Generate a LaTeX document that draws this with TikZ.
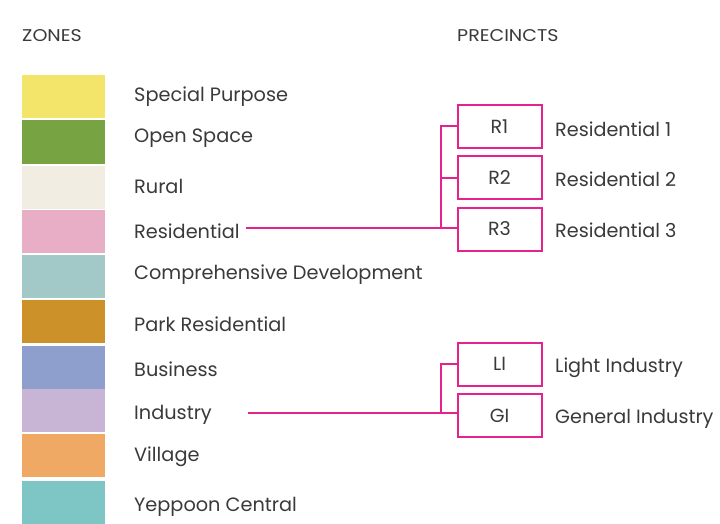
\documentclass[tikz,border=0pt]{standalone}
\usepackage{fontspec}
\setmainfont{Poppins}
\definecolor{mag}{HTML}{E6238C}
\definecolor{txt}{HTML}{3A3A3A}
\definecolor{cSP}{HTML}{F3E46A}
\definecolor{cOS}{HTML}{78A343}
\definecolor{cRU}{HTML}{F2EDE3}
\definecolor{cRE}{HTML}{E8AEC6}
\definecolor{cCD}{HTML}{A3C8C8}
\definecolor{cPR}{HTML}{CC9129}
\definecolor{cBU}{HTML}{8E9FCE}
\definecolor{cIN}{HTML}{C8B4D4}
\definecolor{cVI}{HTML}{F0A865}
\definecolor{cYC}{HTML}{7EC6C6}
\begin{document}
\begin{tikzpicture}[x=1pt,y=-1pt,
  swatch/.style={draw=none,minimum width=83pt,minimum height=43pt,inner sep=0pt},
  zlabel/.style={anchor=west,text=txt,font=\fontsize{19.3}{22}\selectfont,inner sep=0pt,yshift=-2pt},
  head/.style={anchor=west,text=txt,font=\fontsize{17}{20}\selectfont,inner sep=0pt,xscale=1.12,yshift=-1pt},
  pbox/.style={draw=mag,line width=2pt,minimum width=84pt,minimum height=43pt,inner sep=0pt,text=txt,font=\fontsize{19}{22}\selectfont},
  plabel/.style={anchor=west,text=txt,font=\fontsize{19.2}{22}\selectfont,inner sep=0pt,yshift=-2pt},
  link/.style={draw=mag,line width=2pt}]
\useasboundingbox[fill=white] (0,0) rectangle (720,524);
\node[head] (zones) at (22,35) {ZONES};
\node[head] (prec) at (457,35) {PRECINCTS};
% swatches
\node[swatch,fill=cSP] (s1) at (63.5,96.5) {};
\node[swatch,fill=cOS] (s2) at (63.5,142) {};
\node[swatch,fill=cRU] (s3) at (63.5,187.5) {};
\node[swatch,fill=cRE] (s4) at (63.5,231) {};
\node[swatch,fill=cCD] (s5) at (63.5,276) {};
\node[swatch,fill=cPR] (s6) at (63.5,321.5) {};
\node[swatch,fill=cBU] (s7) at (63.5,367.5) {};
\node[swatch,fill=cIN] (s8) at (63.5,410.5) {};
\node[swatch,fill=cVI] (s9) at (63.5,455.5) {};
\node[swatch,fill=cYC] (s10) at (63.5,502.5) {};
% zone labels
\node[zlabel] (l1) at (134,95) {Special Purpose};
\node[zlabel] (l2) at (134,136) {Open Space};
\node[zlabel] (l3) at (134,184) {Rural};
\node[zlabel] (l4) at (134,229) {Residential};
\node[zlabel] (l5) at (134,273) {Comprehensive Development};
\node[zlabel] (l6) at (134,322) {Park Residential};
\node[zlabel] (l7) at (134,367) {Business};
\node[zlabel] (l8) at (134,413) {Industry};
\node[zlabel] (l9) at (134,455) {Village};
\node[zlabel] (l10) at (134,505) {Yeppoon Central};
% precinct boxes
\node[pbox] (r1) at (499.5,126.5) {R1};
\node[pbox] (r2) at (499.5,177.5) {R2};
\node[pbox] (r3) at (499.5,229) {R3};
\node[pbox] (li) at (499.5,364) {LI};
\node[pbox] (gi) at (499.5,415.5) {GI};
% precinct labels
\node[plabel] (p1) at (555,127) {Residential 1};
\node[plabel] (p2) at (555,177) {Residential 2};
\node[plabel] (p3) at (555,228) {Residential 3};
\node[plabel] (p4) at (555,366) {Light Industry};
\node[plabel] (p5) at (555,417) {General Industry};
% connectors
\coordinate (ra) at (246,228);
\coordinate (rj) at (441,228);
\coordinate (ia) at (248,413);
\coordinate (ij) at (441,413);
\draw[link] (ra) -- (r3.west |- ra);
\draw[link] (rj) -- (rj |- r1.west) -- (r1.west);
\draw[link] (rj |- r2.west) -- (r2.west);
\draw[link] (ia) -- (gi.west |- ia);
\draw[link] (ij) -- (ij |- li.west) -- (li.west);
\end{tikzpicture}
\end{document}
